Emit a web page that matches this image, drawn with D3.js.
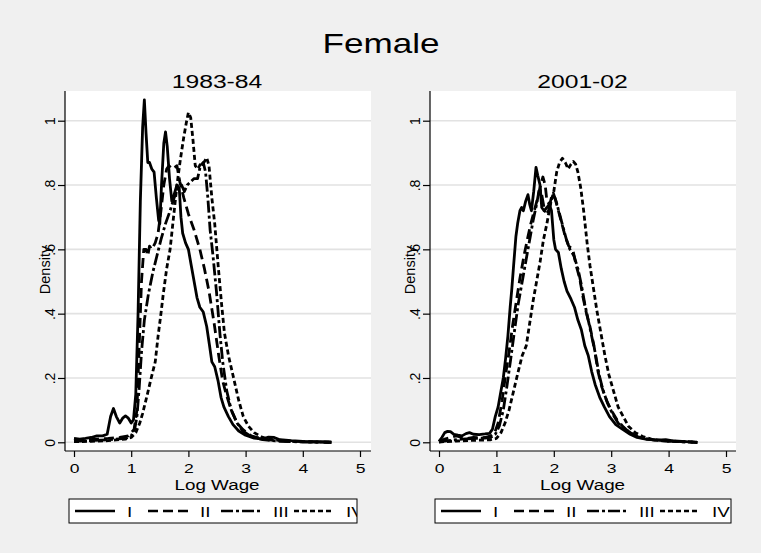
<!DOCTYPE html>
<html>
<head>
<meta charset="utf-8">
<script src="https://cdn.jsdelivr.net/npm/d3@7"></script>
<style>
  body { margin: 0; background: #f0f0f0; }
  text { font-family: "Liberation Sans", Arial, Helvetica, sans-serif; fill: #000; }
</style>
</head>
<body>
<svg id="chart" width="761" height="553"></svg>
<script>
// ---- data (x = log wage, y = density) ----
const seriesNames = ["I", "II", "III", "IV"];
const panelTitles = ["1983-84", "2001-02"];
const yTicks = [0, 0.2, 0.4, 0.6, 0.8, 1];
const yTickLabels = ["0", ".2", ".4", ".6", ".8", "1"];
const xTicks = [0, 1, 2, 3, 4, 5];

const early_I = [[0,0.012],[0.1,0.01],[0.2,0.012],[0.3,0.015],[0.4,0.02],[0.5,0.02],[0.58,0.025],[0.64,0.08],[0.69,0.105],[0.74,0.08],[0.8,0.06],[0.85,0.075],[0.9,0.082],[0.95,0.075],[1.0,0.06],[1.04,0.07],[1.08,0.15],[1.12,0.4],[1.16,0.75],[1.2,0.98],[1.23,1.065],[1.26,0.96],[1.29,0.87],[1.32,0.87],[1.36,0.85],[1.4,0.84],[1.44,0.76],[1.48,0.69],[1.5,0.68],[1.53,0.8],[1.57,0.93],[1.6,0.965],[1.63,0.92],[1.67,0.82],[1.71,0.75],[1.75,0.77],[1.8,0.8],[1.84,0.79],[1.87,0.7],[1.9,0.65],[1.95,0.62],[2.0,0.6],[2.05,0.55],[2.1,0.5],[2.15,0.45],[2.2,0.42],[2.26,0.405],[2.32,0.36],[2.37,0.3],[2.41,0.25],[2.46,0.235],[2.52,0.19],[2.57,0.14],[2.62,0.11],[2.7,0.08],[2.78,0.055],[2.88,0.035],[3.0,0.022],[3.15,0.013],[3.3,0.01],[3.4,0.016],[3.5,0.015],[3.6,0.008],[3.8,0.005],[4.0,0.003],[4.2,0.002],[4.5,0.001]];
const early_II = [[0,0.005],[0.2,0.008],[0.4,0.01],[0.6,0.012],[0.8,0.015],[0.95,0.02],[1.05,0.04],[1.1,0.1],[1.14,0.3],[1.18,0.5],[1.22,0.6],[1.26,0.6],[1.29,0.58],[1.32,0.61],[1.36,0.6],[1.42,0.62],[1.47,0.65],[1.52,0.72],[1.57,0.8],[1.62,0.85],[1.66,0.86],[1.71,0.85],[1.76,0.855],[1.8,0.86],[1.85,0.81],[1.92,0.76],[2.0,0.71],[2.1,0.66],[2.2,0.6],[2.28,0.54],[2.36,0.47],[2.45,0.37],[2.53,0.27],[2.6,0.19],[2.66,0.15],[2.75,0.1],[2.85,0.06],[2.95,0.04],[3.1,0.02],[3.3,0.01],[3.5,0.006],[3.8,0.003],[4.2,0.001],[4.5,0]];
const early_III = [[0,0.003],[0.3,0.005],[0.6,0.008],[0.9,0.012],[1.0,0.02],[1.06,0.04],[1.1,0.08],[1.14,0.17],[1.18,0.28],[1.23,0.38],[1.3,0.46],[1.38,0.53],[1.45,0.58],[1.52,0.63],[1.6,0.68],[1.68,0.72],[1.75,0.76],[1.82,0.79],[1.88,0.8],[1.93,0.78],[1.98,0.8],[2.04,0.81],[2.1,0.82],[2.16,0.82],[2.21,0.86],[2.26,0.87],[2.3,0.84],[2.34,0.76],[2.38,0.66],[2.43,0.58],[2.49,0.47],[2.55,0.34],[2.6,0.25],[2.67,0.16],[2.75,0.1],[2.85,0.06],[2.95,0.035],[3.1,0.018],[3.3,0.008],[3.6,0.003],[4.0,0.001],[4.5,0]];
const early_IV = [[0,0.002],[0.3,0.003],[0.6,0.005],[0.9,0.01],[1.0,0.015],[1.08,0.03],[1.15,0.06],[1.2,0.09],[1.27,0.14],[1.35,0.2],[1.42,0.25],[1.47,0.33],[1.52,0.4],[1.56,0.46],[1.62,0.54],[1.68,0.6],[1.74,0.7],[1.8,0.8],[1.86,0.88],[1.92,0.95],[1.97,1.0],[2.0,1.025],[2.04,1.01],[2.08,0.94],[2.12,0.86],[2.17,0.85],[2.22,0.87],[2.27,0.87],[2.32,0.885],[2.36,0.86],[2.41,0.76],[2.46,0.68],[2.52,0.55],[2.58,0.43],[2.63,0.34],[2.7,0.27],[2.79,0.2],[2.88,0.13],[2.96,0.08],[3.05,0.05],[3.15,0.03],[3.3,0.015],[3.5,0.007],[3.8,0.003],[4.2,0.001],[4.5,0]];

const late_I = [[0,0.003],[0.05,0.015],[0.1,0.03],[0.15,0.034],[0.2,0.033],[0.26,0.025],[0.33,0.022],[0.4,0.02],[0.47,0.027],[0.53,0.03],[0.6,0.025],[0.7,0.024],[0.8,0.026],[0.88,0.028],[0.93,0.04],[0.98,0.08],[1.03,0.11],[1.08,0.16],[1.12,0.2],[1.16,0.26],[1.2,0.33],[1.24,0.42],[1.27,0.48],[1.3,0.55],[1.34,0.64],[1.37,0.68],[1.41,0.72],[1.44,0.73],[1.47,0.72],[1.51,0.75],[1.55,0.77],[1.58,0.74],[1.61,0.72],[1.65,0.78],[1.69,0.855],[1.72,0.83],[1.76,0.8],[1.79,0.73],[1.83,0.72],[1.88,0.73],[1.92,0.74],[1.96,0.72],[2.0,0.63],[2.03,0.6],[2.08,0.59],[2.13,0.54],[2.18,0.5],[2.23,0.47],[2.3,0.445],[2.36,0.42],[2.42,0.38],[2.48,0.35],[2.54,0.3],[2.6,0.27],[2.66,0.22],[2.72,0.18],[2.8,0.14],[2.88,0.11],[2.97,0.08],[3.08,0.055],[3.2,0.04],[3.33,0.025],[3.45,0.015],[3.6,0.01],[3.8,0.007],[3.95,0.008],[4.1,0.004],[4.3,0.002],[4.5,0]];
const late_II = [[0,0.002],[0.1,0.01],[0.2,0.015],[0.3,0.02],[0.4,0.015],[0.5,0.012],[0.6,0.015],[0.7,0.014],[0.8,0.015],[0.9,0.02],[0.97,0.03],[1.03,0.06],[1.1,0.13],[1.16,0.21],[1.22,0.28],[1.28,0.36],[1.34,0.43],[1.41,0.51],[1.48,0.58],[1.55,0.64],[1.6,0.68],[1.66,0.72],[1.72,0.76],[1.77,0.8],[1.81,0.825],[1.85,0.8],[1.88,0.75],[1.93,0.74],[1.97,0.77],[2.02,0.76],[2.08,0.72],[2.14,0.68],[2.2,0.64],[2.26,0.61],[2.33,0.6],[2.39,0.55],[2.45,0.51],[2.51,0.45],[2.57,0.4],[2.63,0.36],[2.7,0.3],[2.77,0.22],[2.84,0.17],[2.92,0.13],[3.0,0.1],[3.1,0.07],[3.2,0.05],[3.32,0.03],[3.45,0.018],[3.6,0.01],[3.8,0.006],[4.0,0.004],[4.25,0.002],[4.5,0]];
const late_III = [[0,0.001],[0.2,0.006],[0.4,0.01],[0.6,0.012],[0.8,0.013],[0.9,0.015],[0.98,0.025],[1.05,0.05],[1.12,0.1],[1.18,0.17],[1.25,0.26],[1.31,0.34],[1.38,0.43],[1.45,0.5],[1.52,0.57],[1.58,0.63],[1.64,0.69],[1.7,0.74],[1.75,0.79],[1.79,0.77],[1.84,0.72],[1.89,0.71],[1.94,0.74],[1.99,0.775],[2.04,0.75],[2.1,0.71],[2.16,0.67],[2.22,0.63],[2.28,0.6],[2.35,0.58],[2.42,0.54],[2.48,0.49],[2.54,0.43],[2.6,0.38],[2.66,0.33],[2.72,0.28],[2.79,0.21],[2.86,0.16],[2.94,0.12],[3.02,0.09],[3.12,0.06],[3.22,0.045],[3.35,0.028],[3.5,0.015],[3.7,0.008],[3.95,0.004],[4.2,0.002],[4.5,0]];
const late_IV = [[0,0.001],[0.3,0.004],[0.6,0.006],[0.9,0.008],[1.0,0.012],[1.08,0.03],[1.15,0.06],[1.22,0.1],[1.3,0.16],[1.38,0.22],[1.45,0.27],[1.52,0.3],[1.58,0.37],[1.64,0.44],[1.7,0.5],[1.76,0.56],[1.82,0.63],[1.88,0.68],[1.94,0.74],[2.0,0.78],[2.05,0.84],[2.1,0.87],[2.15,0.883],[2.2,0.87],[2.25,0.85],[2.3,0.865],[2.34,0.873],[2.38,0.865],[2.42,0.84],[2.47,0.79],[2.52,0.72],[2.58,0.62],[2.63,0.55],[2.69,0.48],[2.75,0.41],[2.82,0.34],[2.89,0.27],[2.96,0.21],[3.04,0.16],[3.12,0.11],[3.21,0.08],[3.3,0.05],[3.42,0.03],[3.55,0.018],[3.7,0.01],[3.9,0.005],[4.2,0.002],[4.5,0]];

// ---- layout ----
const W = 761, H = 553;
const dashes = [null, "10,5", "12,3,3,3", "5,3"];
const panels = [
  {title: panelTitles[0], series: [early_I, early_II, early_III, early_IV], left: 65, right: 371, x0: 74, x5: 360, legL: 69, legR: 357},
  {title: panelTitles[1], series: [late_I, late_II, late_III, late_IV], left: 430, right: 736, x0: 439, x5: 726, legL: 435, legR: 731}
];
const plotTop = 91, plotBottom = 451;
const TX = 1.3; // horizontal stretch of the text in the picture

const svg = d3.select("#chart");
svg.append("rect").attr("width", W).attr("height", H).attr("fill", "#f0f0f0");

function stretchedText(parent, x, y, str, size, anchor) {
  return parent.append("g")
      .attr("transform", `translate(${x},${y}) scale(${TX},1)`)
    .append("text")
      .attr("text-anchor", anchor || "middle")
      .style("font-size", size + "px")
      .text(str);
}

stretchedText(svg, 381, 53, "Female", 27);

panels.forEach((p, pi) => {
  const g = svg.append("g");
  const x = d3.scaleLinear().domain([0, 5]).range([p.x0, p.x5]);
  const y = d3.scaleLinear().domain([0, 1]).range([442.3, 120.7]);

  // plot region
  g.append("rect")
      .attr("x", p.left).attr("y", plotTop)
      .attr("width", p.right - p.left).attr("height", plotBottom - plotTop)
      .attr("fill", "#fff");

  // grid
  g.selectAll(".grid")
    .data(yTicks)
    .join("line")
      .attr("x1", p.left).attr("x2", p.right)
      .attr("y1", d => y(d)).attr("y2", d => y(d))
      .attr("stroke", "#e2e2e2").attr("stroke-width", 1.6);

  // y axis
  const ya = g.append("g")
      .attr("transform", `translate(${p.left},0)`)
      .call(d3.axisLeft(y).tickValues(yTicks).tickSize(7)
        .tickFormat((d, i) => yTickLabels[i]));
  ya.select(".domain").remove();
  ya.selectAll(".tick line").attr("stroke", "#000").attr("stroke-width", 1.2);
  ya.selectAll(".tick text")
      .attr("x", 0).attr("dy", 0).attr("y", -10)
      .attr("transform", "rotate(-90)")
      .attr("text-anchor", "middle")
      .style("font-size", "14px")
      .attr("fill", "#000");
  g.append("line")
      .attr("x1", p.left).attr("x2", p.left)
      .attr("y1", plotTop).attr("y2", plotBottom)
      .attr("stroke", "#000").attr("stroke-width", 1.2);

  // x axis
  const xa = g.append("g")
      .attr("transform", `translate(0,${plotBottom})`)
      .call(d3.axisBottom(x).tickValues(xTicks).tickSize(6).tickFormat(d3.format("d")));
  xa.select(".domain").remove();
  xa.selectAll(".tick line").attr("stroke", "#000").attr("stroke-width", 1.2);
  xa.selectAll(".tick text").remove();
  xa.selectAll(".tick").each(function(d) {
    stretchedText(d3.select(this), 0, 22, d, 13.5);
  });
  g.append("line")
      .attr("x1", p.left).attr("x2", p.right)
      .attr("y1", plotBottom).attr("y2", plotBottom)
      .attr("stroke", "#000").attr("stroke-width", 1.2);

  // axis titles
  stretchedText(g, x(2.5), 490, "Log Wage", 14.5);
  g.append("text")
      .attr("transform", `translate(${p.left - 15},270) rotate(-90)`)
      .attr("text-anchor", "middle")
      .style("font-size", "14.5px")
      .text("Density");

  // panel title
  stretchedText(g, x(2.5), 88, p.title, 19);

  // density curves
  const line = d3.line().x(d => x(d[0])).y(d => y(d[1]));
  p.series.forEach((s, si) => {
    g.append("path")
        .datum(s)
        .attr("d", line)
        .attr("fill", "none")
        .attr("stroke", "#000")
        .attr("stroke-width", 2.8)
        .attr("stroke-linejoin", "round")
        .attr("stroke-dasharray", dashes[si]);
  });

  // legend
  const clipId = "legclip" + pi;
  svg.append("clipPath").attr("id", clipId)
    .append("rect")
      .attr("x", p.legL).attr("y", 499)
      .attr("width", p.legR - p.legL).attr("height", 24);
  const leg = g.append("g");
  leg.append("rect")
      .attr("x", p.legL).attr("y", 499)
      .attr("width", p.legR - p.legL).attr("height", 24)
      .attr("fill", "#fff");
  const items = leg.append("g").attr("clip-path", `url(#${clipId})`);
  seriesNames.forEach((nm, i) => {
    const sx = p.legL + 6 + i * 73;
    items.append("line")
        .attr("x1", sx).attr("x2", sx + 40)
        .attr("y1", 511).attr("y2", 511)
        .attr("stroke", "#000").attr("stroke-width", 2.6)
        .attr("stroke-dasharray", dashes[i]);
    stretchedText(items, sx + 52, 516.5, nm, 14.5, "start");
  });
  leg.append("rect")
      .attr("x", p.legL).attr("y", 499)
      .attr("width", p.legR - p.legL).attr("height", 24)
      .attr("fill", "none").attr("stroke", "#000").attr("stroke-width", 1);
});
</script>
</body>
</html>
